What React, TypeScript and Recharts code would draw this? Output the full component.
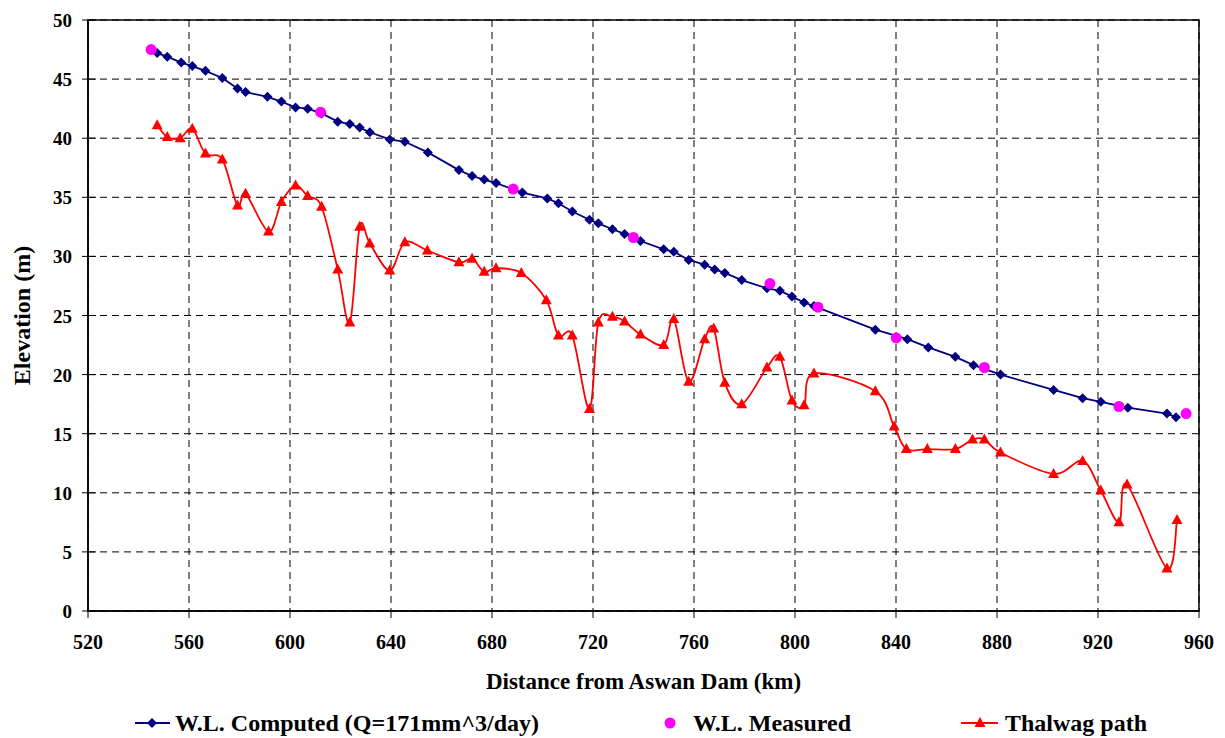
import React from "react";
import {
  ComposedChart,
  Line,
  Scatter,
  XAxis,
  YAxis,
  CartesianGrid,
  ReferenceArea,
} from "recharts";

// W.L. computed (blue diamonds)
const computedKm = [
  547.4, 551.4, 556.9, 561.3, 566.5, 573.2, 579.2, 582.4, 591.1, 596.6, 602.2, 607.0,
  612.5, 618.9, 623.7, 627.6, 631.6, 639.5, 645.5, 654.6, 666.9, 672.1, 676.9, 681.6,
  692.0, 701.9, 706.3, 711.8, 718.6, 722.1, 727.7, 732.5, 738.8, 748.0, 752.0, 757.9,
  764.2, 768.2, 772.2, 778.9, 788.9, 794.0, 798.8, 803.6, 807.5, 831.8, 844.5, 852.8,
  863.5, 870.7, 881.4, 902.4, 913.9, 921.1, 931.8, 947.3, 950.9,
];
const computedLevel = [
  47.2, 46.9, 46.4, 46.1, 45.7, 45.1, 44.2, 43.9, 43.5, 43.1, 42.6, 42.5,
  42.1, 41.4, 41.2, 40.9, 40.5, 39.9, 39.7, 38.8, 37.3, 36.8, 36.5, 36.2,
  35.4, 34.9, 34.5, 33.8, 33.1, 32.8, 32.3, 31.9, 31.3, 30.6, 30.4, 29.7,
  29.3, 28.9, 28.6, 28.0, 27.3, 27.1, 26.6, 26.1, 25.8, 23.8, 23.0, 22.3,
  21.5, 20.8, 20.0, 18.7, 18.0, 17.7, 17.2, 16.7, 16.4,
];

// W.L. measured (magenta dots)
const measuredKm = [545.0, 612.1, 688.4, 736.0, 790.1, 809.1, 840.1, 875.0, 928.3, 954.9];
const measuredLevel = [47.5, 42.2, 35.7, 31.6, 27.7, 25.7, 23.1, 20.6, 17.3, 16.7];

// Thalwag path (red triangles)
const thalwegKm = [
  547.4, 551.4, 556.5, 561.3, 566.5, 573.2, 579.2, 582.4, 591.5, 596.6, 602.2, 607.0,
  612.5, 618.9, 623.7, 627.6, 631.6, 639.5, 645.5, 654.4, 666.9, 672.1, 676.9, 681.6,
  691.6, 701.5, 706.3, 711.8, 718.6, 722.1, 727.7, 732.5, 738.8, 748.0, 752.0, 757.9,
  764.2, 767.8, 772.2, 778.9, 788.9, 794.0, 798.8, 803.6, 807.5, 831.8, 839.3, 844.1,
  852.4, 863.5, 870.3, 875.0, 881.4, 902.4, 913.9, 921.1, 928.3, 931.5, 947.3, 951.3,
];
const thalwegLevel = [
  41.1, 40.1, 40.0, 40.8, 38.7, 38.2, 34.3, 35.3, 32.1, 34.6, 36.0, 35.1,
  34.2, 28.9, 24.4, 32.5, 31.1, 28.8, 31.2, 30.5, 29.5, 29.8, 28.7, 29.0,
  28.6, 26.3, 23.3, 23.3, 17.1, 24.4, 24.9, 24.5, 23.4, 22.5, 24.7, 19.4,
  23.0, 23.9, 19.3, 17.5, 20.6, 21.5, 17.8, 17.4, 20.1, 18.6, 15.6, 13.7,
  13.7, 13.7, 14.5, 14.5, 13.4, 11.6, 12.7, 10.2, 7.5, 10.7, 3.6, 7.7,
];

const xTicks = [520, 560, 600, 640, 680, 720, 760, 800, 840, 880, 920, 960];
const yTicks = [0, 5, 10, 15, 20, 25, 30, 35, 40, 45, 50];

const computedData = computedKm.map((x, i) => ({ x, y: computedLevel[i] }));
const measuredData = measuredKm.map((x, i) => ({ x, y: measuredLevel[i] }));
const thalwegData = thalwegKm.map((x, i) => ({ x, y: thalwegLevel[i] }));

const FONT = "'Liberation Serif', 'Times New Roman', serif";
const NAVY = "#000080";
const RED = "#ff0000";
const MAGENTA = "#ff00ff";

// smooth line like excel (catmull-rom through points)
const excelSmooth = (context: any) => {
  let pts: number[][] = [];
  return {
    areaStart() {},
    areaEnd() {},
    lineStart() {
      pts = [];
    },
    lineEnd() {
      const n = pts.length;
      if (!n) return;
      context.moveTo(pts[0][0], pts[0][1]);
      for (let i = 0; i < n - 1; i++) {
        const p0 = pts[Math.max(i - 1, 0)];
        const p1 = pts[i];
        const p2 = pts[i + 1];
        const p3 = pts[Math.min(i + 2, n - 1)];
        context.bezierCurveTo(
          p1[0] + (p2[0] - p0[0]) / 6,
          p1[1] + (p2[1] - p0[1]) / 6,
          p2[0] - (p3[0] - p1[0]) / 6,
          p2[1] - (p3[1] - p1[1]) / 6,
          p2[0],
          p2[1]
        );
      }
    },
    point(x: number, y: number) {
      pts.push([+x, +y]);
    },
  };
};

const diamond = (props: any) => {
  const { cx, cy, index } = props;
  return (
    <path
      key={`d${index}`}
      d={`M${cx},${cy - 5} L${cx + 5},${cy} L${cx},${cy + 5} L${cx - 5},${cy} Z`}
      fill={NAVY}
    />
  );
};

const triangle = (props: any) => {
  const { cx, cy, index } = props;
  return (
    <path
      key={`t${index}`}
      d={`M${cx},${cy - 6} L${cx + 5.5},${cy + 4} L${cx - 5.5},${cy + 4} Z`}
      fill={RED}
    />
  );
};

const YTick = (props: any) => {
  const { x, y, payload } = props;
  return (
    <g>
      <line x1={x + 10} x2={x + 24} y1={y} y2={y} stroke="#000" strokeWidth={1} />
      <text
        x={x}
        y={y}
        dy={7}
        textAnchor="end"
        fontFamily={FONT}
        fontWeight="bold"
        fontSize={19}
        fill="#000"
      >
        {payload.value}
      </text>
    </g>
  );
};

const tickStyle = { fontFamily: FONT, fontWeight: "bold", fontSize: 20, fill: "#000" };

function Legend() {
  const txt = { fontFamily: FONT, fontWeight: "bold" as const, fontSize: 24, fill: "#000" };
  return (
    <svg
      width={1225}
      height={40}
      style={{ position: "absolute", left: 0, top: 698 }}
    >
      <line x1={135} x2={170} y1={25} y2={25} stroke={NAVY} strokeWidth={2} />
      <path d="M152,20 L157,25 L152,30 L147,25 Z" fill={NAVY} />
      <text x={175} y={33} {...txt}>
        W.L. Computed (Q=171mm^3/day)
      </text>
      <circle cx={670} cy={25} r={5.5} fill={MAGENTA} />
      <text x={693} y={33} {...txt}>
        W.L. Measured
      </text>
      <line x1={961} x2={998} y1={25} y2={25} stroke={RED} strokeWidth={2} />
      <path d="M980,19 L985.5,29 L974.5,29 Z" fill={RED} />
      <text x={1005} y={33} {...txt}>
        Thalwag path
      </text>
    </svg>
  );
}

export default function App() {
  return (
    <div style={{ position: "relative", width: 1225, height: 738, background: "#fff" }}>
      <style>{"body{margin:0}"}</style>
      <ComposedChart
        width={1225}
        height={738}
        margin={{ top: 20, right: 26, bottom: 0, left: 0 }}
      >
        <CartesianGrid
          stroke="#000"
          strokeDasharray="7 5"
          verticalValues={xTicks}
          horizontalValues={yTicks}
        />
        <XAxis
          type="number"
          dataKey="x"
          domain={[520, 960]}
          ticks={xTicks}
          allowDataOverflow
          height={127}
          tickSize={7}
          tickMargin={17}
          tick={tickStyle}
          axisLine={{ stroke: "#000", strokeWidth: 1.5 }}
          tickLine={{ stroke: "#000" }}
          label={{
            value: "Distance from Aswan Dam (km)",
            position: "insideTop",
            offset: 62,
            style: { fontFamily: FONT, fontWeight: "bold", fontSize: 23, fill: "#000" },
          }}
        />
        <YAxis
          type="number"
          dataKey="y"
          domain={[0, 50]}
          ticks={yTicks}
          allowDataOverflow
          width={88}
          tickSize={6}
          tickMargin={10}
          tickLine={false}
          tick={<YTick />}
          axisLine={{ stroke: "#000", strokeWidth: 1.5 }}
          label={{
            content: (p: any) => {
              const vb = p.viewBox;
              const cx = vb.x + 23;
              const cy = vb.y + vb.height / 2;
              return (
                <text
                  x={cx}
                  y={cy}
                  transform={`rotate(-90 ${cx} ${cy})`}
                  textAnchor="middle"
                  dy={7}
                  fontFamily={FONT}
                  fontWeight="bold"
                  fontSize={24}
                  fill="#000"
                >
                  Elevation (m)
                </text>
              );
            },
          }}
        />
        <ReferenceArea
          x1={520}
          x2={960}
          y1={0}
          y2={50}
          fill="none"
          stroke="#000"
          strokeWidth={1.5}
          strokeOpacity={1}
        />
        <Line
          data={thalwegData}
          dataKey="y"
          type={excelSmooth as any}
          stroke={RED}
          strokeWidth={1.8}
          dot={triangle}
          activeDot={false}
          isAnimationActive={false}
        />
        <Line
          data={computedData}
          dataKey="y"
          type="linear"
          stroke={NAVY}
          strokeWidth={1.8}
          dot={diamond}
          activeDot={false}
          isAnimationActive={false}
        />
        <Scatter
          data={measuredData}
          dataKey="y"
          fill={MAGENTA}
          isAnimationActive={false}
          shape={(p: any) => <circle cx={p.cx} cy={p.cy} r={5.5} fill={MAGENTA} />}
        />
      </ComposedChart>
      <Legend />
    </div>
  );
}
